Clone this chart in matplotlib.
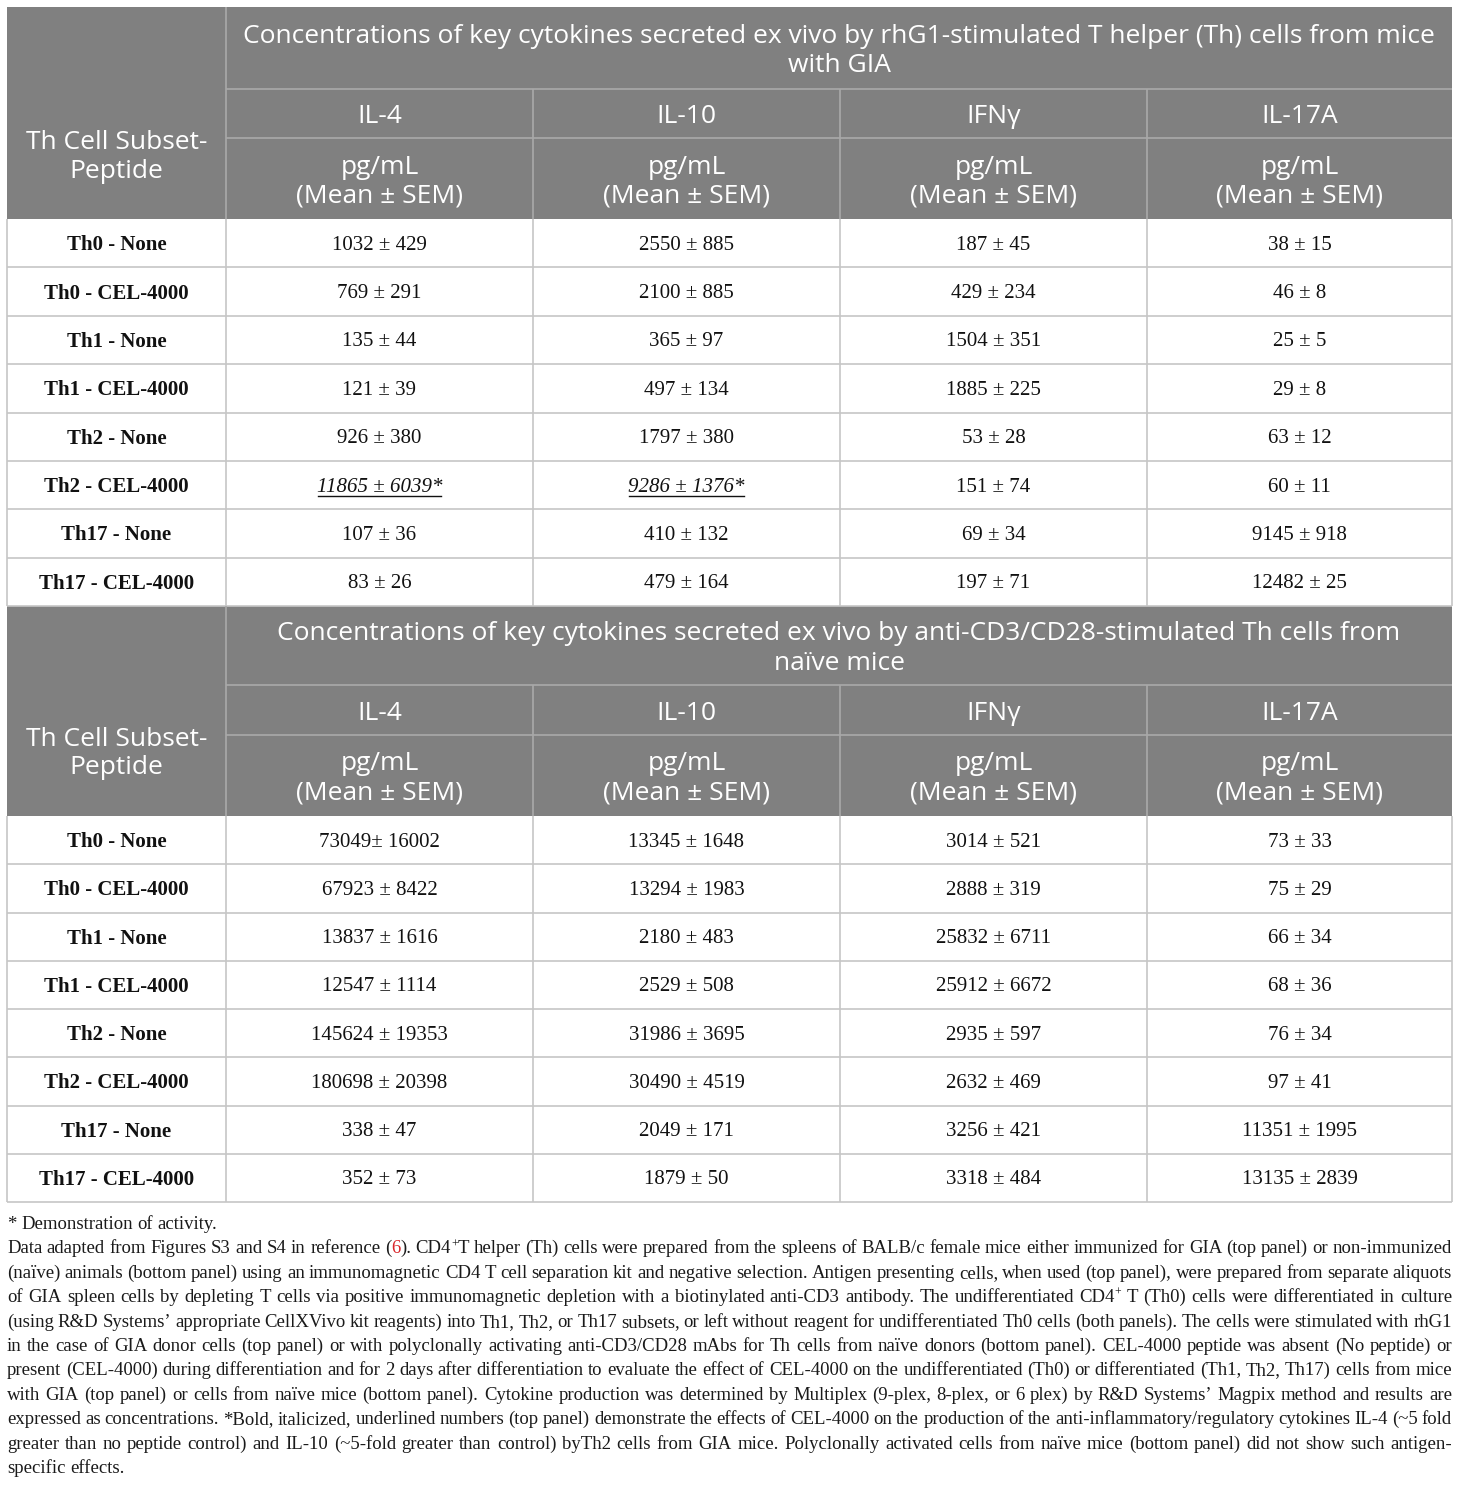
import matplotlib
matplotlib.use("Agg")
import matplotlib.pyplot as plt
from matplotlib.patches import Rectangle

# ---------------- data ----------------
row_labels = ["Th0 - None", "Th0 - CEL-4000", "Th1 - None", "Th1 - CEL-4000",
              "Th2 - None", "Th2 - CEL-4000", "Th17 - None", "Th17 - CEL-4000"]
cytokines = ["IL-4", "IL-10", "IFNγ", "IL-17A"]
unit_lines = ["pg/mL", "(Mean ± SEM)"]
first_col_header = ["Th Cell Subset-", "Peptide"]

top_title = ["Concentrations of key cytokines secreted ex vivo by rhG1-stimulated T helper (Th) cells from mice",
             "with GIA"]
bottom_title = ["Concentrations of key cytokines secreted ex vivo by anti-CD3/CD28-stimulated Th cells from",
                "naïve mice"]

top_il4 = ["1032 ± 429", "769 ± 291", "135 ± 44", "121 ± 39", "926 ± 380", "11865 ± 6039*", "107 ± 36", "83 ± 26"]
top_il10 = ["2550 ± 885", "2100 ± 885", "365 ± 97", "497 ± 134", "1797 ± 380", "9286 ± 1376*", "410 ± 132", "479 ± 164"]
top_ifng = ["187 ± 45", "429 ± 234", "1504 ± 351", "1885 ± 225", "53 ± 28", "151 ± 74", "69 ± 34", "197 ± 71"]
top_il17a = ["38 ± 15", "46 ± 8", "25 ± 5", "29 ± 8", "63 ± 12", "60 ± 11", "9145 ± 918", "12482 ± 25"]

bot_il4 = ["73049± 16002", "67923 ± 8422", "13837 ± 1616", "12547 ± 1114", "145624 ± 19353", "180698 ± 20398", "338 ± 47", "352 ± 73"]
bot_il10 = ["13345 ± 1648", "13294 ± 1983", "2180 ± 483", "2529 ± 508", "31986 ± 3695", "30490 ± 4519", "2049 ± 171", "1879 ± 50"]
bot_ifng = ["3014 ± 521", "2888 ± 319", "25832 ± 6711", "25912 ± 6672", "2935 ± 597", "2632 ± 469", "3256 ± 421", "3318 ± 484"]
bot_il17a = ["73 ± 33", "75 ± 29", "66 ± 34", "68 ± 36", "76 ± 34", "97 ± 41", "11351 ± 1995", "13135 ± 2839"]

# highlighted cells (row index, column index) in top panel
top_highlight = [(5, 0), (5, 1)]

footnote_first = "* Demonstration of activity."
footnote_lines = [
    "Data adapted from Figures S3 and S4 in reference ({6}). CD4{+}T helper (Th) cells were prepared from the spleens of BALB/c female mice either immunized for GIA (top panel) or non-immunized",
    "(naïve) animals (bottom panel) using an immunomagnetic CD4 T cell separation kit and negative selection. Antigen presenting cells, when used (top panel), were prepared from separate aliquots",
    "of GIA spleen cells by depleting T cells via positive immunomagnetic depletion with a biotinylated anti-CD3 antibody. The undifferentiated CD4{+} T (Th0) cells were differentiated in culture",
    "(using R&D Systems’ appropriate CellXVivo kit reagents) into Th1, Th2, or Th17 subsets, or left without reagent for undifferentiated Th0 cells (both panels). The cells were stimulated with rhG1",
    "in the case of GIA donor cells (top panel) or with polyclonally activating anti-CD3/CD28 mAbs for Th cells from naïve donors (bottom panel). CEL-4000 peptide was absent (No peptide) or",
    "present (CEL-4000) during differentiation and for 2 days after differentiation to evaluate the effect of CEL-4000 on the undifferentiated (Th0) or differentiated (Th1, Th2, Th17) cells from mice",
    "with GIA (top panel) or cells from naïve mice (bottom panel). Cytokine production was determined by Multiplex (9-plex, 8-plex, or 6 plex) by R&D Systems’ Magpix method and results are",
    "expressed as concentrations. *Bold, italicized, underlined numbers (top panel) demonstrate the effects of CEL-4000 on the production of the anti-inflammatory/regulatory cytokines IL-4 (~5 fold",
    "greater than no peptide control) and IL-10 (~5-fold greater than control) byTh2 cells from GIA mice. Polyclonally activated cells from naïve mice (bottom panel) did not show such antigen-",
]
footnote_last = "specific effects."

# ---------------- layout / style ----------------
W, H = 1460, 1487
fig = plt.figure(figsize=(W / 100, H / 100), dpi=100)
ax = fig.add_axes([0, 0, 1, 1])
ax.set_xlim(0, W)
ax.set_ylim(H, 0)
ax.axis("off")
renderer = fig.canvas.get_renderer()

HEAD_BG = "#808080"
HEAD_LINE = "#a9a9a9"
BODY_LINE = "#c6c6c6"
SANS = "Open Sans"
SERIF = ["Liberation Serif", "DejaVu Serif"]
BODY_FS = 15
HDY = 3  # vertical nudge of header text

col_x = [7, 226, 533, 840, 1147, 1452]

# fit header font size so that the long title line is about 1190 px wide
probe = ax.text(0, 0, top_title[0], fontsize=10, family=SANS)
pw = probe.get_window_extent(renderer).width
probe.remove()
HEAD_FS = 10 * 1190 / pw


def hline(x0, x1, y, color, lw=1.2):
    ax.plot([x0, x1], [y, y], color=color, lw=lw, solid_capstyle="butt", zorder=3)


def vline(x, y0, y1, color, lw=1.2):
    ax.plot([x, x], [y0, y1], color=color, lw=lw, solid_capstyle="butt", zorder=3)


def htext(x, y, s):
    ax.text(x, y + HDY, s, ha="center", va="center", color="white",
            fontsize=HEAD_FS, family=SANS, zorder=4)


def draw_panel(y_top, y_title_end, y_cyt_end, y_head_end, y_bottom, title, columns, highlight):
    # header background
    ax.add_patch(Rectangle((col_x[0], y_top), col_x[-1] - col_x[0], y_head_end - y_top,
                           facecolor=HEAD_BG, edgecolor="none", zorder=1))
    # header grid
    vline(col_x[1], y_top, y_head_end, HEAD_LINE)
    for cx in col_x[2:-1]:
        vline(cx, y_title_end, y_head_end, HEAD_LINE)
    hline(col_x[1], col_x[-1], y_title_end, HEAD_LINE)
    hline(col_x[1], col_x[-1], y_cyt_end, HEAD_LINE)
    # title text
    tc = (col_x[1] + col_x[-1]) / 2
    tm = (y_top + y_title_end) / 2
    htext(tc, tm - 14.5, title[0])
    htext(tc, tm + 14.5, title[1])
    # first column header
    fc = (col_x[0] + col_x[1]) / 2
    fm = (y_title_end + y_head_end) / 2
    htext(fc, fm - 14.5, first_col_header[0])
    htext(fc, fm + 14.5, first_col_header[1])
    # cytokine + unit headers
    um = (y_cyt_end + y_head_end) / 2
    for j, name in enumerate(cytokines):
        cx = (col_x[j + 1] + col_x[j + 2]) / 2
        htext(cx, (y_title_end + y_cyt_end) / 2, name)
        htext(cx, um - 14.5, unit_lines[0])
        htext(cx, um + 14.5, unit_lines[1])
    # body
    n = len(row_labels)
    rh = (y_bottom - y_head_end) / n
    for i in range(1, n + 1):
        hline(col_x[0], col_x[-1], y_head_end + i * rh, BODY_LINE)
    for cx in col_x:
        vline(cx, y_head_end, y_bottom, BODY_LINE)
    for i, lab in enumerate(row_labels):
        ym = y_head_end + (i + 0.5) * rh + 2
        ax.text(fc, ym, lab, ha="center", va="center", fontsize=BODY_FS, family=SERIF,
                weight="bold", color="#111111", zorder=4)
        for j, col in enumerate(columns):
            cx = (col_x[j + 1] + col_x[j + 2]) / 2
            hl = (i, j) in highlight
            t = ax.text(cx, ym, col[i], ha="center", va="center", fontsize=BODY_FS, family=SERIF,
                        style="italic" if hl else "normal", color="#111111", zorder=4)
            if hl:
                bb = t.get_window_extent(renderer)
                inv = ax.transData.inverted()
                (x0, yb), (x1, _) = inv.transform([[bb.x0, bb.y0], [bb.x1, bb.y1]])
                ax.plot([x0 + 1, x1 - 1], [yb - 1, yb - 1], color="#111111", lw=1.0, zorder=4)


draw_panel(7, 89, 138, 219, 606, top_title, [top_il4, top_il10, top_ifng, top_il17a], top_highlight)
draw_panel(606, 685, 735, 816, 1202, bottom_title, [bot_il4, bot_il10, bot_ifng, bot_il17a], [])

# ---------------- footnote ----------------
FN_X0, FN_X1 = 7, 1452
FN_COLOR = "#1a1a1a"
RED = "#d9262b"


def parse_word(word):
    """Split a word into segments: (text, kind) with kind in {'n','red','sup'}."""
    segs = []
    buf = ""
    i = 0
    while i < len(word):
        ch = word[i]
        if ch == "{":
            j = word.index("}", i)
            inner = word[i + 1:j]
            if buf:
                segs.append((buf, "n"))
                buf = ""
            segs.append((inner, "sup" if inner == "+" else "red"))
            i = j + 1
        else:
            buf += ch
            i += 1
    if buf:
        segs.append((buf, "n"))
    return segs


def make_word(word, fs):
    arts = []
    for txt, kind in parse_word(word):
        if kind == "sup":
            t = ax.text(0, 0, txt, fontsize=fs * 0.62, family=SERIF, color=FN_COLOR,
                        ha="left", va="baseline")
        else:
            t = ax.text(0, 0, txt, fontsize=fs, family=SERIF,
                        color=RED if kind == "red" else FN_COLOR, ha="left", va="baseline")
        arts.append((t, kind, t.get_window_extent(renderer).width))
    return arts


# fit footnote size so natural width of the widest line stays inside the block
probe_fs = 12
widest = 0
space_probe = ax.text(0, 0, "a a", fontsize=probe_fs, family=SERIF)
aa = ax.text(0, 0, "aa", fontsize=probe_fs, family=SERIF)
space_w = space_probe.get_window_extent(renderer).width - aa.get_window_extent(renderer).width
space_probe.remove()
aa.remove()
for line in footnote_lines:
    words = line.split(" ")
    tot = 0
    for w_ in words:
        for t, k, wd in make_word(w_, probe_fs):
            tot += wd
            t.remove()
    tot += space_w * (len(words) - 1) * 0.85
    widest = max(widest, tot)
FN_FS = probe_fs * (FN_X1 - FN_X0) / widest

LINE_DY = 24.4
base0 = 1229


def place_line(line, y, justify=True):
    words = line.split(" ")
    built = [make_word(w_, FN_FS) for w_ in words]
    widths = [sum(wd for _, _, wd in b) for b in built]
    if justify and len(words) > 1:
        gap = (FN_X1 - FN_X0 - sum(widths)) / (len(words) - 1)
    else:
        gap = space_w * FN_FS / probe_fs
    x = FN_X0
    for b, wsum in zip(built, widths):
        xx = x
        for t, kind, wd in b:
            if kind == "sup":
                t.set_position((xx, y - FN_FS * 0.45))
            else:
                t.set_position((xx, y))
            xx += wd
        x += wsum + gap


place_line(footnote_first, base0, justify=False)
for k, line in enumerate(footnote_lines):
    place_line(line, base0 + (k + 1) * LINE_DY, justify=True)
place_line(footnote_last, base0 + (len(footnote_lines) + 1) * LINE_DY, justify=False)

fig.savefig("out.png", dpi=100, facecolor="white")
